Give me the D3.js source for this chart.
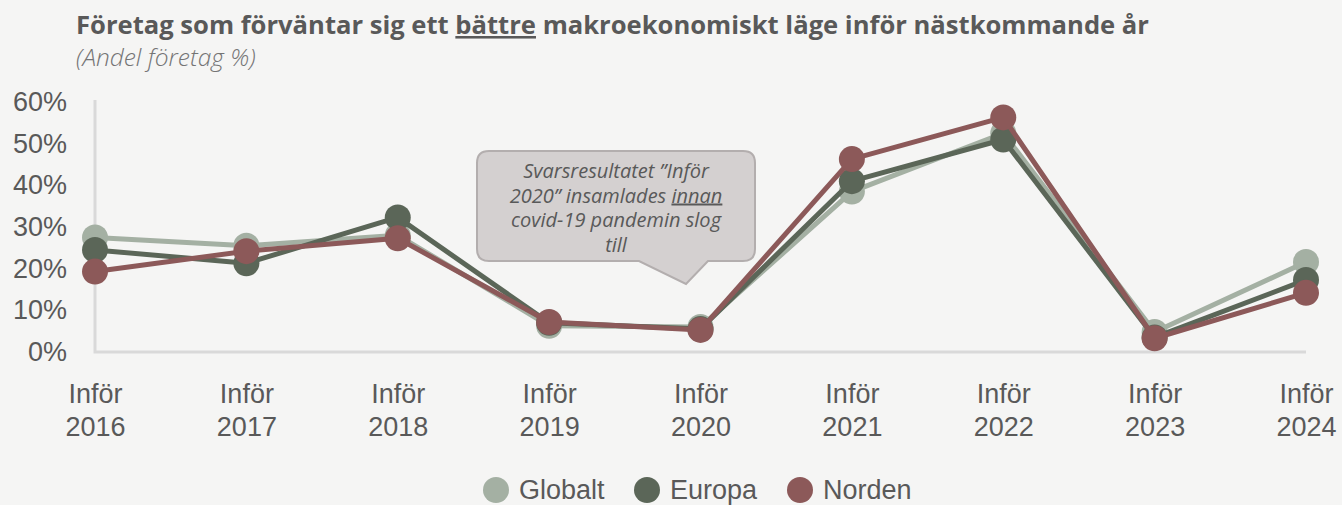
<!DOCTYPE html>
<html>
<head>
<meta charset="utf-8">
<script src="https://cdn.jsdelivr.net/npm/d3@7"></script>
<style>
  body { margin: 0; background: #f5f5f4; }
  svg { display: block; }
</style>
</head>
<body>
<svg class="chart" width="1342" height="505"></svg>
<script>
var years = ["2016", "2017", "2018", "2019", "2020", "2021", "2022", "2023", "2024"];
var globalt = [27.5, 25.5, 28, 6.3, 6, 38.5, 52.5, 4.8, 21.6];
var europa = [24.5, 21.3, 32.3, 7, 5.5, 41, 51, 3.5, 17.3];
var norden = [19.3, 24.2, 27.3, 7.2, 5.3, 46.3, 56.3, 3.3, 14.2];
var yTicks = [0, 10, 20, 30, 40, 50, 60];

var series = [
  { name: "Globalt", values: globalt, color: "#a4b0a3" },
  { name: "Europa", values: europa, color: "#5b6658" },
  { name: "Norden", values: norden, color: "#8c5959" }
];

var svg = d3.select(".chart"),
    width = +svg.attr("width"),
    height = +svg.attr("height");

var textColor = "#595959";

var x = d3.scalePoint()
    .domain(years)
    .range([95, 1306]);

var y = d3.scaleLinear()
    .domain([0, 60])
    .range([352, 102]);

// title
var title = svg.append("text")
    .attr("x", 76)
    .attr("y", 34)
    .attr("fill", textColor)
    .attr("font-family", "Open Sans")
    .attr("font-weight", "bold")
    .attr("font-size", 25.6);
title.append("tspan").text("Företag som förväntar sig ett ");
title.append("tspan").attr("text-decoration", "underline").text("bättre");
title.append("tspan").text(" makroekonomiskt läge inför nästkommande år");

svg.append("text")
    .attr("x", 76)
    .attr("y", 66)
    .attr("fill", "#747474")
    .attr("font-family", "Open Sans")
    .attr("font-style", "italic")
    .attr("font-weight", 300)
    .attr("font-size", 24.5)
    .text("(Andel företag %)");

// axes
var yAxis = svg.append("g")
    .attr("transform", "translate(67,0)")
    .call(d3.axisLeft(y).tickValues(yTicks).tickSize(0).tickPadding(0)
      .tickFormat(function(d) { return d + "%"; }));
yAxis.select(".domain").remove();
yAxis.selectAll("text")
    .attr("fill", textColor)
    .attr("font-family", "Liberation Sans, Arial, sans-serif")
    .attr("font-size", 27);

svg.append("path")
    .attr("d", "M" + x.range()[0] + "," + (y.range()[1] - 2) + "V" + y(0) + "H" + x.range()[1])
    .attr("fill", "none")
    .attr("stroke", "#d9d9d9")
    .attr("stroke-width", 3);

var xAxis = svg.append("g")
    .attr("transform", "translate(0," + y(0) + ")")
    .call(d3.axisBottom(x).tickSize(0).tickFormat(""));
xAxis.select(".domain").remove();
xAxis.selectAll(".tick").each(function(d) {
  var t = d3.select(this).append("text")
      .attr("fill", textColor)
      .attr("text-anchor", "middle")
      .attr("font-family", "Liberation Sans, Arial, sans-serif")
      .attr("font-size", 27);
  t.append("tspan").attr("x", 0).attr("y", 51).text("Inför");
  t.append("tspan").attr("x", 0).attr("y", 84).text(d);
});

// callout
var callout = svg.append("g");
var cx0 = 477, cx1 = 755, cy0 = 151, cy1 = 261, r = 12;
callout.append("path")
    .attr("d", "M" + (cx0 + r) + "," + cy0 +
      "H" + (cx1 - r) + "Q" + cx1 + "," + cy0 + " " + cx1 + "," + (cy0 + r) +
      "V" + (cy1 - r) + "Q" + cx1 + "," + cy1 + " " + (cx1 - r) + "," + cy1 +
      "H708L686,284L639," + cy1 +
      "H" + (cx0 + r) + "Q" + cx0 + "," + cy1 + " " + cx0 + "," + (cy1 - r) +
      "V" + (cy0 + r) + "Q" + cx0 + "," + cy0 + " " + (cx0 + r) + "," + cy0 + "Z")
    .attr("fill", "#d4d0d0")
    .attr("stroke", "#b3aeae")
    .attr("stroke-width", 2);
var calloutLines = [
  [{ t: "Svarsresultatet ”Inför" }],
  [{ t: "2020” insamlades " }, { t: "innan", u: true }],
  [{ t: "covid-19 pandemin slog" }],
  [{ t: "till" }]
];
calloutLines.forEach(function(parts, i) {
  var t = callout.append("text")
      .attr("x", 616)
      .attr("y", 178 + i * 24.5)
      .attr("text-anchor", "middle")
      .attr("fill", textColor)
      .attr("font-family", "Open Sans")
      .attr("font-style", "italic")
      .attr("font-size", 20);
  parts.forEach(function(p) {
    var s = t.append("tspan").text(p.t);
    if (p.u) s.attr("text-decoration", "underline");
  });
});

// series
var line = d3.line()
    .x(function(d, i) { return x(years[i]); })
    .y(function(d) { return y(d); });

series.forEach(function(s) {
  var g = svg.append("g");
  g.append("path")
      .attr("d", line(s.values))
      .attr("fill", "none")
      .attr("stroke", s.color)
      .attr("stroke-width", 5)
      .attr("stroke-linejoin", "round");
  g.selectAll("circle")
    .data(s.values)
    .enter().append("circle")
      .attr("cx", function(d, i) { return x(years[i]); })
      .attr("cy", function(d) { return y(d); })
      .attr("r", 13)
      .attr("fill", s.color);
});

// legend
var legendX = [496, 647, 800];
var legend = svg.append("g")
    .selectAll("g")
    .data(series)
    .enter().append("g")
      .attr("transform", function(d, i) { return "translate(" + legendX[i] + ",490)"; });
legend.append("circle")
    .attr("r", 13)
    .attr("fill", function(d) { return d.color; });
legend.append("text")
    .attr("x", 23)
    .attr("dy", "0.35em")
    .attr("fill", textColor)
    .attr("font-family", "Liberation Sans, Arial, sans-serif")
    .attr("font-size", 27)
    .text(function(d) { return d.name; });
</script>
</body>
</html>
